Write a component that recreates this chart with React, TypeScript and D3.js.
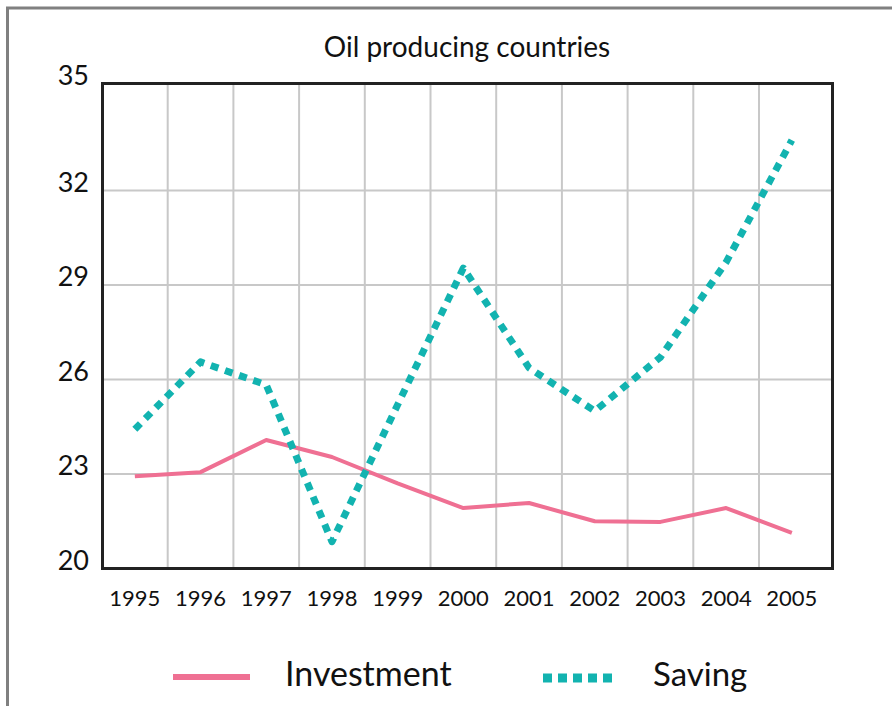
import React from "react";
import * as d3 from "d3";

const years = ["1995","1996","1997","1998","1999","2000","2001","2002","2003","2004","2005"];
const investment = [22.93, 23.06, 24.08, 23.54, 22.7, 21.92, 22.08, 21.5, 21.48, 21.92, 21.13];
const saving = [24.42, 26.56, 25.83, 20.85, 25.2, 29.54, 26.37, 25.0, 26.71, 29.73, 33.6];
const yTicks = [20, 23, 26, 29, 32, 35];
const title = "Oil producing countries";
const seriesNames = ["Investment", "Saving"];

const W = 892, H = 706;
const FONT = "Lato, 'Open Sans', sans-serif";

export default function App() {
  const left = 102.5, right = 832.5, top = 83.5, bottom = 568.5;
  const cell = 65.7;
  const x = d3.scaleBand<string>().domain(years).range([left - 0.5, left - 0.5 + cell * years.length]);
  const y = d3.scaleLinear().domain([20, 35.4]).range([bottom, top]);
  const cx = (i: number) => (x(years[i]) as number) + x.bandwidth() / 2;

  const line = d3.line<number>().x((_, i) => cx(i)).y((d) => y(d));

  const vGrid = years.slice(1).map((yr) => x(yr) as number);
  const hGrid = yTicks.filter((t) => t > 20 && t < 35);

  return (
    <svg width={W} height={H} style={{ display: "block", position: "absolute", left: 0, top: 0 }}>
      <rect x={0} y={0} width={W} height={H} fill="#fff" />
      <rect x={7.5} y={8} width={W + 20} height={H + 20} fill="none" stroke="#808080" strokeWidth={3} />
      <text x={467} y={57} textAnchor="middle" fontFamily={FONT} fontSize={28} fill="#111">{title}</text>
      {vGrid.map((gx, i) => (
        <line key={"v" + i} x1={gx} x2={gx} y1={top} y2={bottom} stroke="#c8c8c8" strokeWidth={2} />
      ))}
      {hGrid.map((t) => (
        <line key={"h" + t} x1={left} x2={right} y1={y(t)} y2={y(t)} stroke="#c8c8c8" strokeWidth={2} />
      ))}
      <path d={line(investment) || ""} fill="none" stroke="#ef7093" strokeWidth={4} strokeLinejoin="round" />
      <path d={line(saving) || ""} fill="none" stroke="#12b3b0" strokeWidth={7} strokeDasharray="8 7" strokeLinejoin="round" />
      <rect x={left} y={top} width={right - left} height={bottom - top} fill="none" stroke="#222" strokeWidth={3} />
      {yTicks.map((t) => (
        <text key={"yt" + t} x={89} y={(t === 35 ? top : y(t)) + 1} textAnchor="end" fontFamily={FONT} fontSize={27} fill="#111">{t}</text>
      ))}
      {years.map((yr, i) => (
        <text key={"xt" + yr} x={cx(i)} y={606} textAnchor="middle" fontFamily={FONT} fontSize={22} fill="#111">{yr}</text>
      ))}
      <line x1={173} x2={250} y1={677} y2={677} stroke="#ef7093" strokeWidth={6} />
      <text x={285} y={686} fontFamily={FONT} fontSize={34} fill="#111">{seriesNames[0]}</text>
      <line x1={543} x2={618} y1={678} y2={678} stroke="#12b3b0" strokeWidth={9} strokeDasharray="9 6" />
      <text x={653} y={686} fontFamily={FONT} fontSize={33} fill="#111">{seriesNames[1]}</text>
    </svg>
  );
}
